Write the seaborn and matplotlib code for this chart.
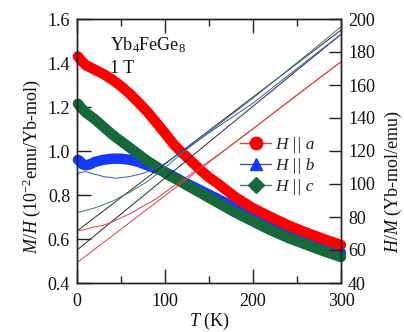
import numpy as np
import pandas as pd
import matplotlib
matplotlib.use("Agg")
import matplotlib.pyplot as plt
from matplotlib.lines import Line2D
import seaborn as sns

# ---------------- data ----------------
# M/H (10^-2 emu/Yb-mol), thick curves
T_red = [1, 2, 5, 10, 20, 30, 40, 50, 60, 70, 80, 90, 100, 110, 120, 130, 140, 150,
         160, 180, 200, 220, 240, 260, 280, 300]
MH_red = [1.43, 1.425, 1.41, 1.39, 1.37, 1.35, 1.325, 1.295, 1.26, 1.22, 1.178, 1.13,
          1.08, 1.03, 0.99, 0.953, 0.915, 0.88, 0.852, 0.79, 0.74, 0.70, 0.662, 0.63,
          0.60, 0.573]

T_blue = [1, 3, 6, 10, 15, 20, 30, 40, 50, 60, 70, 80, 90, 100, 120, 140, 160, 180,
          200, 220, 240, 260, 280, 300]
MH_blue = [0.96, 0.955, 0.94, 0.935, 0.94, 0.95, 0.96, 0.965, 0.965, 0.96, 0.95, 0.935,
           0.92, 0.905, 0.862, 0.822, 0.782, 0.742, 0.702, 0.667, 0.632, 0.597, 0.567, 0.537]

T_green = [1, 5, 10, 20, 30, 40, 50, 60, 70, 80, 90, 100, 120, 140, 160, 180, 200, 220,
           240, 260, 280, 300]
MH_green = [1.215, 1.195, 1.175, 1.145, 1.11, 1.075, 1.045, 1.015, 0.985, 0.955, 0.93,
            0.90, 0.855, 0.81, 0.765, 0.72, 0.68, 0.64, 0.605, 0.575, 0.545, 0.518]

# H/M (Yb-mol/emu), thin curves
T_inv_red = [0, 10, 20, 30, 40, 50, 60, 70, 80, 90, 100, 120, 140, 160, 200, 250, 300]
HM_red = [71.5, 72.5, 74, 75, 77, 79.5, 82, 85, 88, 91, 95, 102.5, 110, 117.5, 133.5, 154, 174]

T_inv_blue = [0, 3, 10, 20, 30, 45, 60, 75, 90, 100, 120, 150, 200, 250, 300]
HM_blue = [105, 107, 107.5, 106, 104.5, 103.5, 104.5, 106.5, 109.5, 112.5, 120, 131,
           149, 170, 190.7]

T_inv_green = [0, 20, 40, 60, 80, 100, 120, 150, 200, 250, 300]
HM_green = [82.6, 85.5, 89.5, 95, 101.5, 110, 119, 131.5, 152, 173.5, 195.3]

# Curie-Weiss fit lines (end points)
T_fit = [0, 300]
fit_red = [52.3, 174.1]
fit_black1 = [71.5, 193.3]
fit_black2 = [60.0, 190.7]

legend_labels = ["H || a", "H || b", "H || c"]
x_ticks = [0, 100, 200, 300]
y_ticks_left = [0.4, 0.6, 0.8, 1.0, 1.2, 1.4, 1.6]
y_ticks_right = [40, 60, 80, 100, 120, 140, 160, 180, 200]

# ---------------- style ----------------
sns.set_theme(style="white")
plt.rcParams["font.family"] = ["Liberation Serif", "DejaVu Serif"]
plt.rcParams["mathtext.fontset"] = "custom"
plt.rcParams["mathtext.rm"] = "Liberation Serif"
plt.rcParams["mathtext.it"] = "Liberation Serif:italic"
plt.rcParams["mathtext.bf"] = "Liberation Serif:bold"

RED = "#ff0000"
BLUE = "#1538ff"
GREEN = "#17683a"
THIN_RED = "#e0403c"
THIN_BLUE = "#3552c8"
THIN_GREEN = "#3f7d55"
BLACK = "#2a2a2a"
AX_COL = "#222222"

fig = plt.figure(figsize=(4.04, 3.32), dpi=100)
ax = fig.add_axes([77 / 404, 1 - 283 / 332, 264 / 404, 264 / 332])
ax2 = ax.twinx()

# thick M/H curves
for T, y, c in [(T_blue, MH_blue, BLUE), (T_green, MH_green, GREEN), (T_red, MH_red, RED)]:
    df = pd.DataFrame({"T": T, "v": y})
    sns.lineplot(data=df, x="T", y="v", ax=ax, color=c, lw=7.5, estimator=None,
                 sort=False, solid_capstyle="round", solid_joinstyle="round", clip_on=False)

# thin H/M curves and fits
thin = [
    (T_fit, fit_red, THIN_RED),
    (T_fit, fit_black2, BLACK),
    (T_fit, fit_black1, BLACK),
    (T_inv_red, HM_red, THIN_RED),
    (T_inv_green, HM_green, THIN_GREEN),
    (T_inv_blue, HM_blue, THIN_BLUE),
]
for T, y, c in thin:
    df = pd.DataFrame({"T": T, "v": y})
    sns.lineplot(data=df, x="T", y="v", ax=ax2, color=c, lw=0.7, estimator=None, sort=False)

ax.set_xlim(0, 300)
ax.set_ylim(0.4, 1.6)
ax2.set_ylim(40, 200)
ax.set_xticks(x_ticks)
ax.set_xticks([50, 150, 250], minor=True)
ax.set_yticks(y_ticks_left)
ax.set_yticklabels([f"{v:.1f}" for v in y_ticks_left])
ax2.set_yticks(y_ticks_right)

for a in (ax, ax2):
    for s in a.spines.values():
        s.set_color(AX_COL)
        s.set_linewidth(1.0)
ax.tick_params(axis="x", which="major", direction="in", length=10, width=1, top=True,
               bottom=True, color=AX_COL, labelsize=13, pad=7, labelcolor="#111111")
ax.tick_params(axis="x", which="minor", direction="in", length=5, width=1, top=True,
               bottom=True, color=AX_COL)
ax.tick_params(axis="y", which="major", direction="in", length=10, width=1, left=True,
               right=False, color=AX_COL, labelsize=13, pad=5, labelcolor="#111111")
ax2.tick_params(axis="y", which="major", direction="in", length=8.5, width=1, right=True,
                color=AX_COL, labelsize=13, pad=5, labelcolor="#111111")

ax.set_xlabel(r"$T$ (K)", fontsize=13, va="center", color="#111111")
ax.xaxis.set_label_coords(0.5, -0.145)
ax.set_ylabel(r"$M/H$ (10$^{-2}$emu/Yb-mol)", fontsize=13, va="center", color="#111111")
ax.yaxis.set_label_coords(-0.17, 0.44)
ax2.set_ylabel(r"$H/M$ (Yb-mol/emu)", fontsize=13, va="center", color="#111111")
ax2.yaxis.set_label_coords(1.2, 0.385)

ax.text(0.125, 0.883, r"Yb$_4$FeGe$_8$", transform=ax.transAxes, fontsize=13,
        va="baseline", ha="left", color="#111111")
ax.text(0.125, 0.795, "1 T", transform=ax.transAxes, fontsize=13,
        va="baseline", ha="left", color="#111111")

handles = [
    Line2D([], [], color=THIN_RED, lw=1, marker="o", ms=9, mfc=RED, mec=RED),
    Line2D([], [], color=THIN_BLUE, lw=1, marker="^", ms=9, mfc=BLUE, mec=BLUE),
    Line2D([], [], color=THIN_GREEN, lw=1, marker="D", ms=8, mfc=GREEN, mec=GREEN),
]
leg = ax2.legend(handles, legend_labels, loc="upper left", bbox_to_anchor=(0.617, 0.555),
                 frameon=False, borderpad=0, borderaxespad=0, handlelength=1.8,
                 handletextpad=0.25, labelspacing=0.28,
                 prop={"family": "Liberation Serif", "style": "italic", "size": 12.5})
ax.grid(False)
ax2.grid(False)

fig.savefig("out.png", dpi=100)
